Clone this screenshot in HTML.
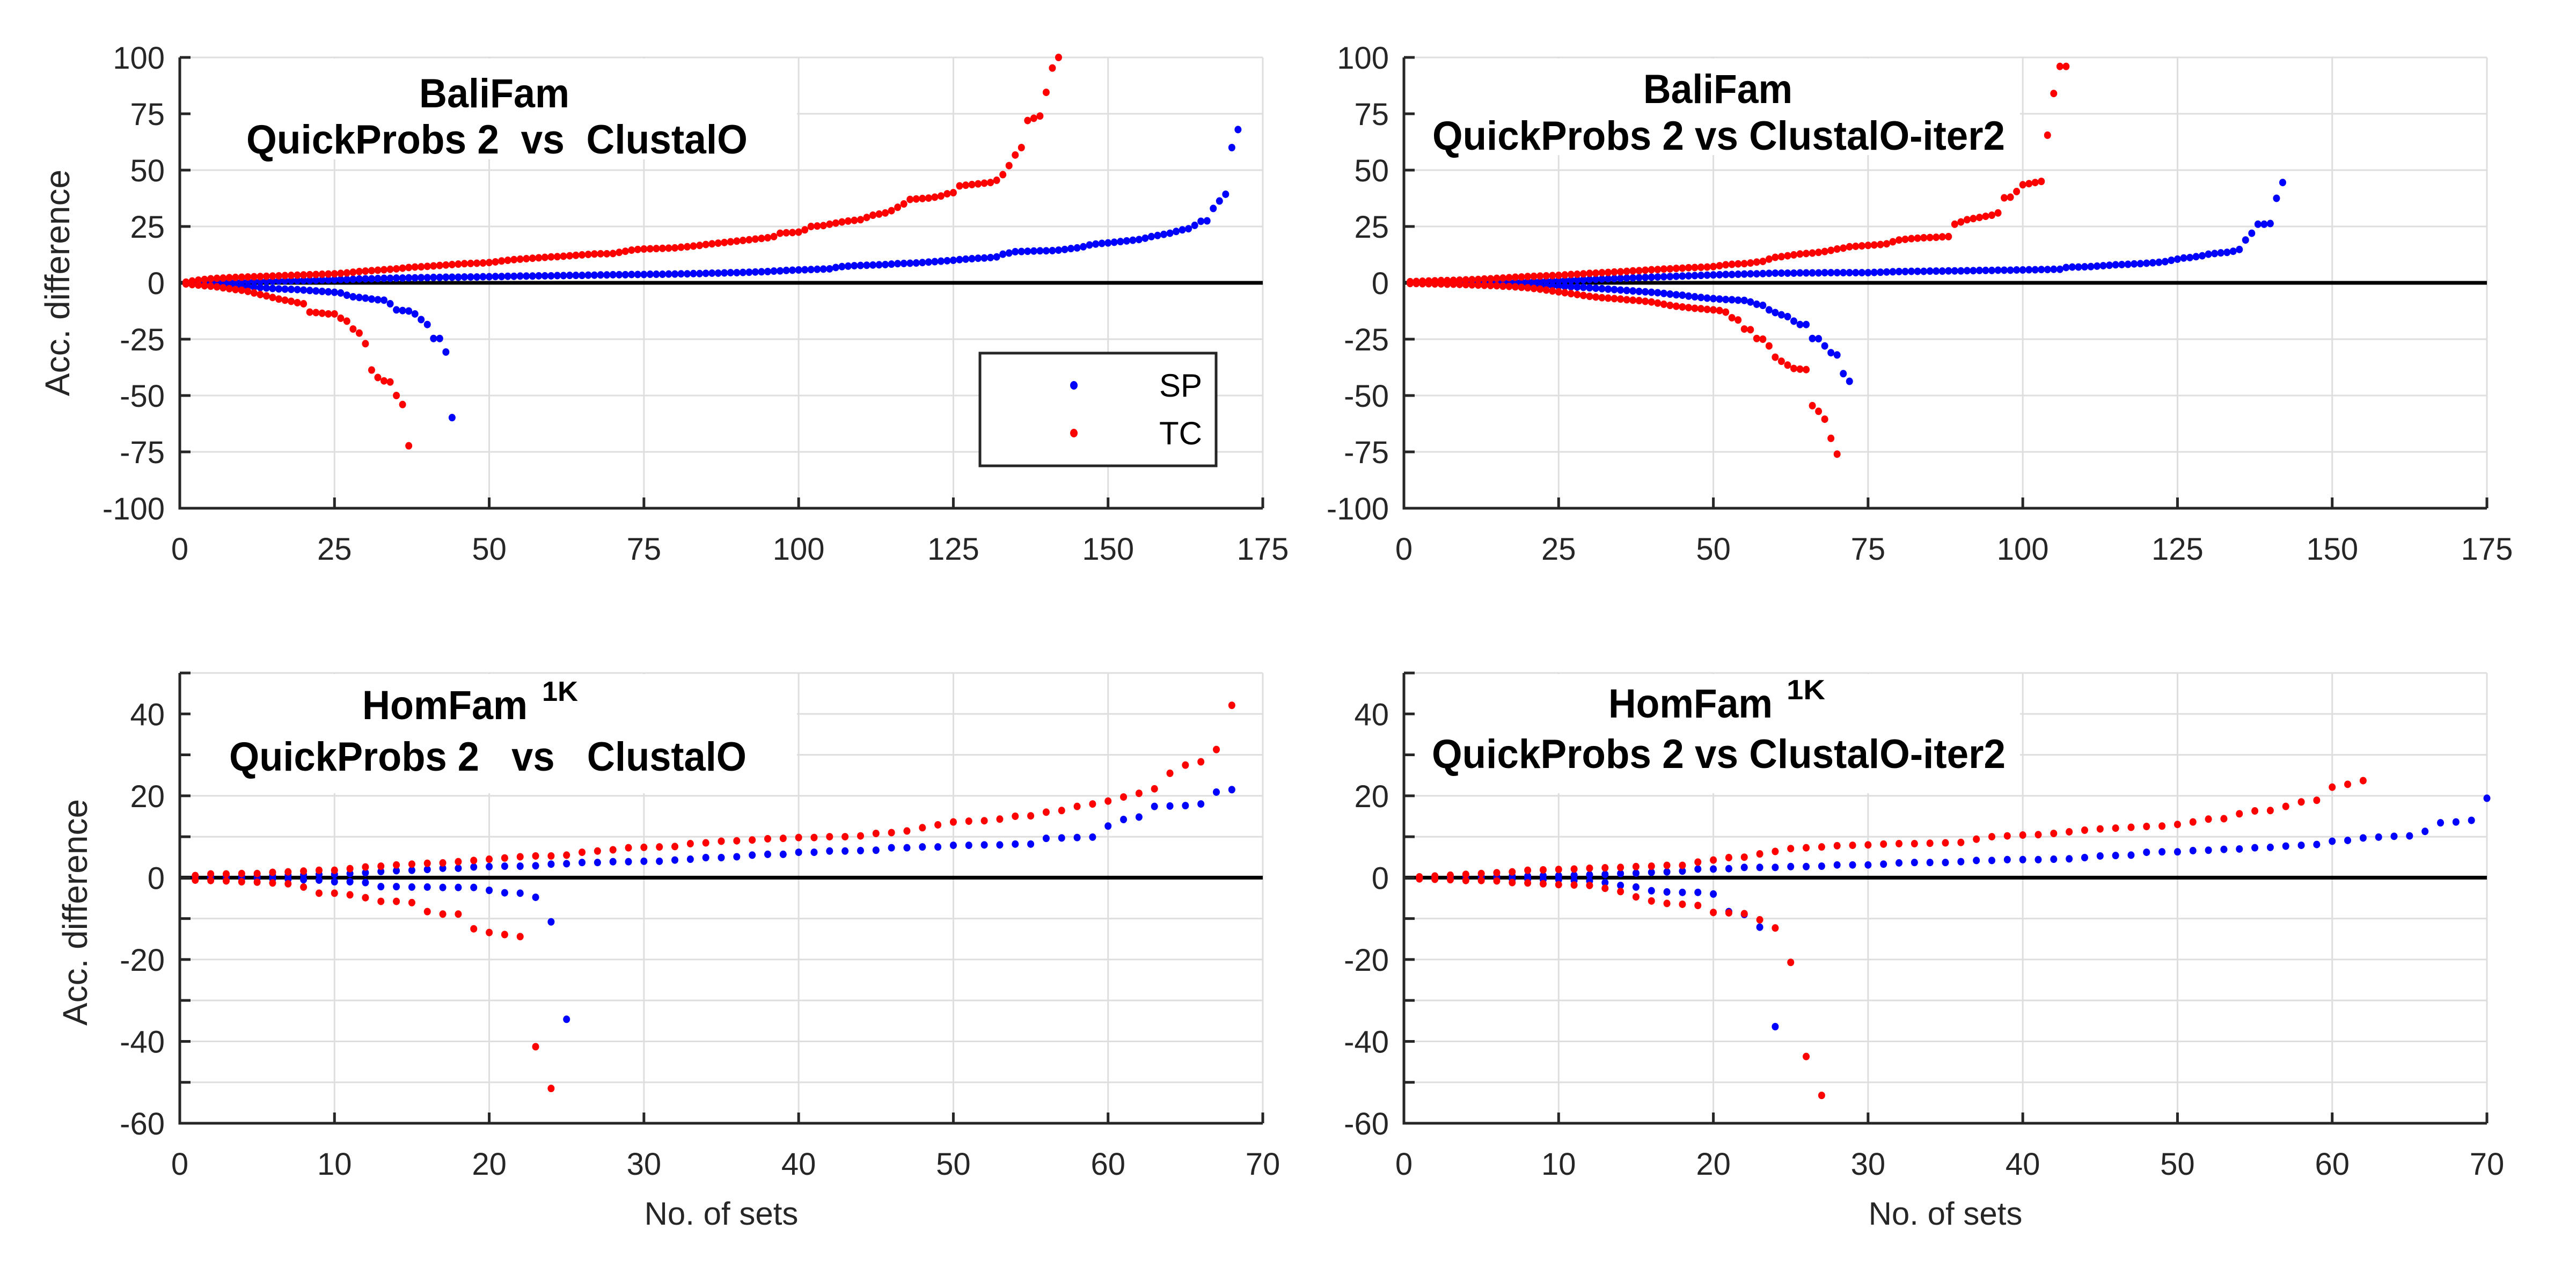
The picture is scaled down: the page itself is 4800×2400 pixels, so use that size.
<!DOCTYPE html>
<html><head><meta charset="utf-8"><style>
html,body{margin:0;padding:0;background:#fff;}
svg{display:block;font-family:"Liberation Sans",Arial,sans-serif;}
text{white-space:pre;}
</style></head><body>
<svg id="chart" width="4800" height="2400" viewBox="0 0 4800 2400" xmlns="http://www.w3.org/2000/svg">
<rect x="0" y="0" width="4800" height="2400" fill="#fff"/>
</svg>
<script>
// ---------- DATA ----------
const tlSpPos=[0.1,0.2,0.2,0.3,0.3,0.4,0.4,0.5,0.5,0.6,0.6,0.7,0.7,0.8,0.8,0.9,0.9,1.0,1.0,1.1,1.1,1.2,1.3,1.3,1.4,1.5,1.5,1.6,1.7,1.8,1.8,1.9,2.0,2.0,2.1,2.1,2.2,2.2,2.3,2.3,2.4,2.4,2.5,2.5,2.5,2.6,2.6,2.6,2.7,2.7,2.8,2.8,2.9,2.9,3.0,3.0,3.0,3.1,3.1,3.1,3.2,3.2,3.3,3.3,3.3,3.4,3.4,3.5,3.5,3.6,3.6,3.6,3.7,3.7,3.7,3.8,3.8,3.8,3.9,3.9,4.0,4.0,4.1,4.1,4.2,4.3,4.3,4.4,4.5,4.5,4.6,4.7,4.8,4.9,5.0,5.2,5.3,5.5,5.6,5.7,5.8,5.9,6.0,6.1,6.2,6.8,7.2,7.4,7.6,7.7,7.8,7.9,8.0,8.1,8.3,8.5,8.6,8.7,8.8,9.0,9.2,9.4,9.6,9.8,10.0,10.3,10.5,10.7,10.9,11.0,11.2,11.5,12.7,13.2,13.8,13.9,14.0,14.1,14.2,14.2,14.3,14.5,14.8,15.2,15.5,16.0,16.8,17.2,17.5,17.7,18.0,18.3,18.6,18.9,19.2,19.8,20.5,21.0,21.5,22.0,22.8,23.5,24.0,25.5,27.3,27.5,33.0,36.3,39.3,60.0,68.0];
const tlSpNeg=[-0.2,-0.4,-0.5,-0.7,-0.8,-0.9,-1.0,-1.2,-1.3,-1.5,-1.7,-1.9,-2.1,-2.3,-2.5,-2.7,-2.8,-2.9,-3.0,-3.2,-3.4,-3.6,-3.8,-4.0,-4.2,-4.5,-5.5,-6.2,-6.5,-6.8,-7.2,-7.5,-7.7,-9.3,-12.0,-12.3,-12.5,-13.8,-16.3,-18.5,-24.7,-24.7,-30.7,-59.8];
const tlTcPos=[0.3,0.8,1.2,1.5,1.8,2.0,2.1,2.3,2.4,2.5,2.6,2.7,2.8,2.9,3.0,3.1,3.2,3.3,3.4,3.5,3.6,3.7,3.8,3.9,4.0,4.2,4.4,4.7,5.0,5.2,5.4,5.6,5.8,6.0,6.2,6.5,6.8,7.0,7.1,7.3,7.5,7.7,7.9,8.1,8.3,8.5,8.6,8.7,8.8,9.0,9.3,9.7,10.0,10.3,10.5,10.7,10.9,11.1,11.3,11.5,11.6,11.8,12.0,12.2,12.4,12.6,12.8,12.9,12.9,13.0,13.5,14.0,14.5,14.8,15.0,15.1,15.2,15.3,15.4,15.5,15.8,16.0,16.3,16.6,17.0,17.3,17.6,17.9,18.2,18.5,18.8,19.1,19.4,19.7,20.0,20.5,22.0,22.2,22.3,22.5,23.5,25.0,25.2,25.4,26.0,26.5,27.0,27.4,27.7,28.0,29.0,30.0,30.5,31.0,32.0,33.5,35.0,37.0,37.2,37.4,37.6,38.0,38.5,39.5,40.0,43.0,43.3,43.6,43.9,44.2,44.5,45.5,48.0,52.0,56.7,60.0,72.0,73.0,74.0,84.5,95.3,100.0];
const tlTcNeg=[-0.5,-0.8,-1.0,-1.3,-1.5,-1.8,-2.2,-2.6,-3.0,-3.3,-3.8,-4.5,-5.2,-5.8,-6.5,-7.2,-7.7,-8.2,-8.8,-9.3,-13.0,-13.2,-13.5,-13.8,-13.8,-15.7,-17.0,-20.5,-22.3,-27.0,-38.7,-42.0,-43.5,-44.0,-50.0,-54.0,-72.3];

const trSpPos=[0.0,0.0,0.0,0.0,0.1,0.1,0.1,0.1,0.2,0.2,0.2,0.3,0.3,0.3,0.4,0.4,0.5,0.5,0.6,0.6,0.7,0.7,0.8,0.9,1.0,1.1,1.2,1.3,1.4,1.5,1.6,1.7,1.8,1.9,2.0,2.1,2.2,2.3,2.4,2.5,2.6,2.7,2.8,2.9,3.0,3.1,3.2,3.3,3.4,3.5,3.6,3.7,3.7,3.8,3.9,4.0,4.0,4.1,4.2,4.3,4.3,4.3,4.3,4.4,4.4,4.4,4.4,4.5,4.5,4.5,4.5,4.5,4.5,4.5,4.5,4.6,4.7,4.8,4.9,5.0,5.0,5.1,5.1,5.1,5.2,5.2,5.2,5.3,5.3,5.3,5.4,5.4,5.5,5.5,5.5,5.6,5.6,5.6,5.7,5.7,5.8,5.8,5.9,5.9,6.0,6.0,6.8,7.0,7.0,7.1,7.2,7.4,7.6,7.8,8.0,8.1,8.2,8.4,8.5,8.7,8.9,9.1,9.4,10.0,10.5,11.0,11.2,11.6,12.0,12.7,13.0,13.3,13.5,14.0,14.8,19.0,22.0,26.0,26.0,26.3,37.5,44.5];
const trSpNeg=[0.0,0.0,-0.1,-0.1,-0.1,-0.1,-0.2,-0.2,-0.3,-0.3,-0.3,-0.4,-0.4,-0.5,-0.5,-0.6,-0.7,-0.8,-0.9,-1.0,-1.1,-1.2,-1.3,-1.4,-1.5,-1.6,-1.8,-1.9,-2.0,-2.2,-2.4,-2.6,-2.8,-3.0,-3.2,-3.4,-3.6,-3.8,-4.0,-4.2,-4.4,-4.7,-5.0,-5.3,-5.5,-5.9,-6.2,-6.5,-6.8,-7.0,-7.2,-7.4,-7.5,-7.7,-7.8,-8.5,-9.5,-10.0,-12.0,-13.2,-14.2,-15.0,-17.0,-18.5,-18.5,-24.7,-24.8,-28.0,-31.0,-32.0,-40.3,-43.7];
const trTcPos=[0.5,0.6,0.7,0.8,0.9,1.0,1.0,1.1,1.2,1.3,1.4,1.5,1.7,1.8,2.0,2.1,2.3,2.5,2.6,2.8,2.9,3.0,3.1,3.2,3.3,3.5,3.7,3.8,4.0,4.2,4.3,4.5,4.6,4.8,4.9,5.1,5.3,5.4,5.6,5.8,5.9,6.1,6.2,6.4,6.5,6.7,6.8,6.9,7.0,7.2,7.6,8.0,8.2,8.4,8.5,8.8,9.2,9.5,10.5,11.3,11.6,12.0,12.4,12.8,13.0,13.2,13.5,13.9,14.4,15.0,15.4,16.0,16.2,16.4,16.6,16.8,17.0,17.3,18.2,19.0,19.3,19.6,19.8,20.0,20.1,20.2,20.4,20.5,26.0,27.0,28.0,28.5,29.0,29.5,30.0,31.0,37.7,38.0,40.5,43.5,44.0,44.5,45.0,65.5,84.0,96.0,96.0];
const trTcNeg=[-0.3,-0.3,-0.4,-0.4,-0.5,-0.5,-0.6,-0.6,-0.7,-0.8,-0.9,-1.0,-1.1,-1.2,-1.3,-1.5,-1.6,-1.8,-2.0,-2.2,-2.5,-2.8,-3.2,-3.6,-4.0,-4.4,-4.8,-5.2,-5.6,-6.0,-6.3,-6.6,-6.8,-7.0,-7.2,-7.5,-7.7,-7.9,-8.2,-8.5,-9.0,-9.5,-10.0,-10.4,-10.7,-11.0,-11.3,-11.5,-11.8,-12.0,-12.3,-13.0,-15.5,-16.5,-20.5,-20.8,-24.7,-25.0,-28.0,-33.0,-34.8,-36.5,-38.0,-38.3,-38.5,-54.5,-57.0,-60.5,-69.0,-76.0];

const blSpPos=[0.3,0.3,0.3,0.4,0.5,0.5,0.6,0.7,0.8,0.8,1.0,1.2,1.5,1.7,1.8,2.0,2.3,2.3,2.6,2.7,2.8,2.8,2.9,3.3,3.4,3.7,3.7,3.9,3.9,4.0,4.0,4.3,4.5,4.9,4.9,5.1,5.5,5.7,5.7,6.2,6.2,6.5,6.5,6.6,6.7,7.3,7.3,7.5,7.5,7.9,7.9,8.0,8.0,8.2,8.2,9.6,9.7,9.8,9.9,12.6,14.2,14.8,17.4,17.5,17.6,18.0,20.9,21.5];
const blSpNeg=[0.0,-0.1,-0.1,-0.2,-0.2,-0.3,-0.4,-0.5,-0.6,-1.0,-1.0,-1.2,-2.2,-2.2,-2.3,-2.3,-2.4,-2.4,-2.4,-3.1,-3.7,-3.8,-4.8,-10.8,-34.6];
const blTcPos=[0.5,0.9,0.9,1.0,1.0,1.3,1.4,1.6,1.8,1.8,2.2,2.6,2.8,3.1,3.3,3.5,3.6,3.9,4.2,4.5,4.8,5.1,5.3,5.3,5.5,6.2,6.5,6.8,7.3,7.4,7.5,7.6,8.3,8.5,8.9,9.0,9.2,9.5,9.6,9.8,9.8,10.0,10.0,10.2,10.8,11.0,11.4,12.2,12.9,13.6,13.8,13.9,14.3,15.0,15.1,16.0,16.4,17.4,18.0,18.7,19.7,20.6,21.7,25.5,27.5,28.3,31.3,42.1];
const blTcNeg=[-0.6,-0.7,-0.8,-1.0,-1.1,-1.3,-1.5,-2.3,-3.8,-3.8,-4.2,-4.9,-5.8,-5.8,-6.1,-8.3,-8.9,-8.9,-12.5,-13.4,-13.9,-14.4,-41.3,-51.5];

const brSpPos=[0.1,0.1,0.2,0.2,0.3,0.3,0.4,0.4,0.5,0.5,0.6,0.7,0.8,1.0,1.1,1.3,1.4,1.6,2.1,2.1,2.2,2.5,2.5,2.5,2.7,2.7,2.8,3.1,3.1,3.1,3.3,3.6,3.7,3.7,3.7,3.9,4.2,4.2,4.4,4.4,4.4,4.5,4.6,4.9,5.3,5.4,5.5,6.2,6.3,6.3,6.6,6.7,6.9,7.0,7.3,7.4,7.7,7.9,8.1,8.9,9.1,9.7,9.9,10.1,10.2,11.3,13.4,13.6,14.0,19.4];
const brSpNeg=[-0.1,-0.1,-0.2,-0.2,-0.3,-0.3,-0.4,-0.4,-0.5,-0.5,-0.7,-0.8,-1.2,-1.9,-2.3,-3.2,-3.5,-3.6,-3.6,-4.0,-8.3,-9.0,-12.1,-36.4];
const brTcPos=[0.2,0.4,0.6,0.8,1.0,1.2,1.4,1.8,1.9,2.0,2.1,2.3,2.4,2.5,2.7,2.8,3.0,3.0,3.8,4.3,4.9,5.0,5.8,6.4,7.1,7.3,7.5,7.8,7.9,8.0,8.2,8.3,8.3,8.4,8.5,8.6,9.4,10.0,10.2,10.4,10.5,10.8,11.2,11.6,11.9,12.1,12.3,12.5,12.6,13.0,13.6,14.3,14.4,15.6,16.3,16.4,17.4,18.5,18.9,22.1,22.8,23.7];
const brTcNeg=[-0.3,-0.4,-0.5,-0.7,-0.7,-0.8,-1.2,-1.3,-1.5,-1.7,-1.8,-1.9,-2.6,-3.4,-4.7,-5.7,-6.3,-6.5,-6.8,-8.5,-8.6,-8.8,-10.3,-12.3,-20.7,-43.7,-53.2];

const topXTicks=[0,25,50,75,100,125,150,175];
const topYTicks=[-100,-75,-50,-25,0,25,50,75,100];
const botXTicks=[0,10,20,30,40,50,60,70];
const botYTicks=[-60,-50,-40,-30,-20,-10,0,10,20,30,40,50];
const botYLabels=[-60,-40,-20,0,20,40];

// ---------- DRAWING ----------
const NS='http://www.w3.org/2000/svg';
const svg=document.getElementById('chart');
function mk(tag,attrs,parent){const e=document.createElementNS(NS,tag);for(const k in attrs)e.setAttribute(k,attrs[k]);(parent||svg).appendChild(e);return e;}

function panel(cfg){
  const g=mk('g',{});
  
  
  const xs=v=>cfg.x0+(v-cfg.xmin)/(cfg.xmax-cfg.xmin)*(cfg.x1-cfg.x0);
  const ys=v=>cfg.y1-(v-cfg.ymin)/(cfg.ymax-cfg.ymin)*(cfg.y1-cfg.y0);
  cfg.xt.forEach(t=>{const l=mk('line',{x1:xs(t),x2:xs(t),y1:cfg.y0,y2:cfg.y1,stroke:'#dedede','stroke-width':3},g);
    });
  cfg.yt.forEach(t=>{const l=mk('line',{x1:cfg.x0,x2:cfg.x1,y1:ys(t),y2:ys(t),stroke:'#dedede','stroke-width':3},g);
    });
  const tb=mk('rect',{x:cfg.x0+2,y:cfg.y0+2,width:cfg.tbw,height:cfg.tbh,fill:'#fff'},g);
  
  const z=mk('line',{x1:cfg.x0,x2:cfg.x1,y1:ys(0),y2:ys(0),stroke:'#000','stroke-width':7},g);
  
  const ax=mk('path',{d:`M${cfg.x0},${cfg.y0}V${cfg.y1}H${cfg.x1}`,fill:'none',stroke:'#262626','stroke-width':5},g);
  
  cfg.xt.forEach(t=>{const l=mk('line',{x1:xs(t),x2:xs(t),y1:cfg.y1,y2:cfg.y1-20,stroke:'#262626','stroke-width':5},g);
    
    const tx=mk('text',{x:xs(t),y:cfg.y1+96,'font-size':58,'text-anchor':'middle',fill:'#262626'},g);tx.textContent=t;
    });
  cfg.yt.forEach(t=>{const l=mk('line',{x1:cfg.x0,x2:cfg.x0+20,y1:ys(t),y2:ys(t),stroke:'#262626','stroke-width':5},g);
    });
  cfg.yl.forEach(t=>{const tx=mk('text',{x:cfg.x0-28,y:ys(t)+21,'font-size':58,'text-anchor':'end',fill:'#262626'},g);tx.textContent=t;
    });
  const series=[[cfg.spPos,'#0000ff','sp-point'],[cfg.spNeg,'#0000ff','sp-point'],[cfg.tcPos,'#ff0000','tc-point'],[cfg.tcNeg,'#ff0000','tc-point']];
  series.forEach(s=>{s[0].forEach((v,i)=>{const c=mk('ellipse',{cx:xs(i+1),cy:ys(v),rx:6.5,ry:7,fill:s[1]},g);
    });});
  const t1=mk('text',{x:cfg.t1x0,y:cfg.t1y,'font-size':76,'font-weight':'bold',fill:'#000',textLength:cfg.t1w,lengthAdjust:'spacingAndGlyphs'},g);
  t1.textContent=cfg.t1;
  if(cfg.sup){const s=mk('text',{x:cfg.supx,y:cfg.t1y-34,'font-size':52,'font-weight':'bold',fill:'#000',textLength:cfg.supw,lengthAdjust:'spacingAndGlyphs'},g);s.textContent=cfg.sup;
    }
  const t2=mk('text',{x:cfg.t2x0,y:cfg.t2y,'font-size':76,'font-weight':'bold',fill:'#000',textLength:cfg.t2w,lengthAdjust:'spacingAndGlyphs'},g);
  t2.textContent=cfg.t2;
  return {xs,ys};
}

panel({name:'panel-balifam-clustalo',x0:335,x1:2353,y0:107,y1:947,xmin:0,xmax:175,ymin:-100,ymax:100,xt:topXTicks,yt:topYTicks,yl:topYTicks,
  spPos:tlSpPos,spNeg:tlSpNeg,tcPos:tlTcPos,tcNeg:tlTcNeg,tbw:1148,tbh:188,
  t1:'BaliFam',t1x0:781,t1w:280,t1y:200,t2:'QuickProbs 2  vs  ClustalO',t2x0:459,t2y:286,t2w:934});
panel({name:'panel-balifam-clustalo-iter2',x0:2616,x1:4634,y0:107,y1:947,xmin:0,xmax:175,ymin:-100,ymax:100,xt:topXTicks,yt:topYTicks,yl:topYTicks,
  spPos:trSpPos,spNeg:trSpNeg,tcPos:trTcPos,tcNeg:trTcNeg,tbw:1146,tbh:180,
  t1:'BaliFam',t1x0:3062,t1w:278,t1y:192,t2:'QuickProbs 2 vs ClustalO-iter2',t2x0:2669,t2y:279,t2w:1067});
panel({name:'panel-homfam-clustalo',x0:335,x1:2353,y0:1254,y1:2093,xmin:0,xmax:70,ymin:-60,ymax:50,xt:botXTicks,yt:botYTicks,yl:botYLabels,
  spPos:blSpPos,spNeg:blSpNeg,tcPos:blTcPos,tcNeg:blTcNeg,tbw:1148,tbh:222,
  t1:'HomFam',t1x0:675,t1w:308,t1y:1340,sup:'1K',supx:1010,supw:67,t2:'QuickProbs 2   vs   ClustalO',t2x0:427,t2y:1436,t2w:964});
panel({name:'panel-homfam-clustalo-iter2',x0:2616,x1:4634,y0:1254,y1:2093,xmin:0,xmax:70,ymin:-60,ymax:50,xt:botXTicks,yt:botYTicks,yl:botYLabels,
  spPos:brSpPos,spNeg:brSpNeg,tcPos:brTcPos,tcNeg:brTcNeg,tbw:1146,tbh:222,
  t1:'HomFam',t1x0:2997,t1w:306,t1y:1337,sup:'1K',supx:3329,supw:72,t2:'QuickProbs 2 vs ClustalO-iter2',t2x0:2668,t2y:1431,t2w:1069});

[[107,527],[140,1700]].forEach(p=>{const t=mk('text',{x:p[0],y:p[1],'font-size':64,'text-anchor':'middle',fill:'#262626',transform:`rotate(-90 ${p[0]} ${p[1]})`,dy:22});
  t.textContent='Acc. difference';});
[1344,3625].forEach(x=>{const t=mk('text',{x:x,y:2282,'font-size':60,'text-anchor':'middle',fill:'#262626'});
  t.textContent='No. of sets';});

const lg=mk('g',{});


mk('rect',{x:1826,y:658,width:440,height:210,fill:'#fff',stroke:'#262626','stroke-width':5},lg);
[['SP','#0000ff',718],['TC','#ff0000',807]].forEach(e=>{
  const c=mk('ellipse',{cx:2001,cy:e[2],rx:7,ry:8,fill:e[1]},lg);
  
  const t=mk('text',{x:2240,y:e[2]+21,'font-size':60,'text-anchor':'end',fill:'#000'},lg);t.textContent=e[0];
  
});
</script>
</body></html>
